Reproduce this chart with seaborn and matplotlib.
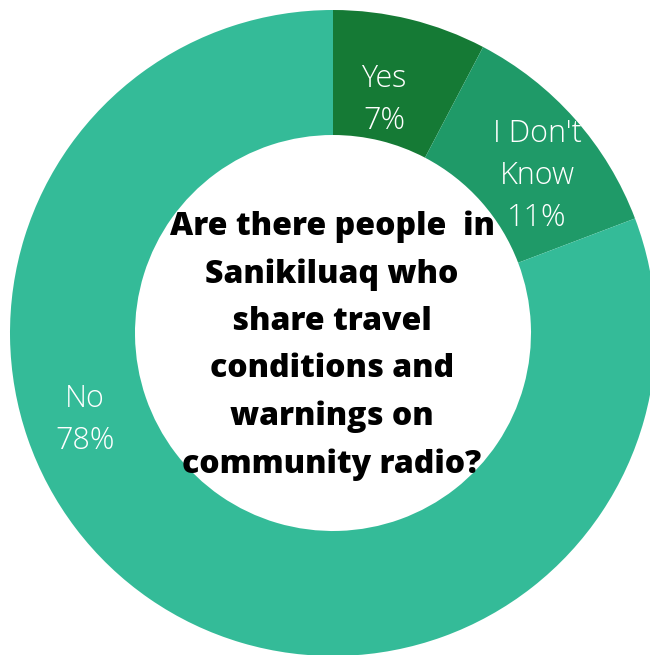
import matplotlib
matplotlib.use("Agg")
import matplotlib.pyplot as plt
import seaborn as sns

# Data (wedge angles match counts 2 / 3 / 21)
categories = ["Yes", "I Don't\nKnow", "No"]
counts = [2, 3, 21]
pct_labels = ["7%", "11%", "78%"]
colors = ["#157A35", "#1F9A68", "#34BB98"]
title = ("Are there people  in\nSanikiluaq who\nshare travel\n"
         "conditions and\nwarnings on\ncommunity radio?")

sns.set_theme(style="white")
plt.rcParams['font.family'] = ['Open Sans', 'DejaVu Sans']

W, H = 650, 655
fig = plt.figure(figsize=(W / 100, H / 100), dpi=100)
ax = fig.add_axes([0, 0, 1, 1])

cx, cy, R = 333, 333, 323  # pixel centre and outer radius
wedges, _ = ax.pie(counts, colors=colors, startangle=90, counterclock=False,
                   radius=1.0, wedgeprops=dict(width=0.387, linewidth=0))

ax.set_xlim(-cx / R, (W - cx) / R)
ax.set_ylim(-(H - cy) / R, cy / R)
ax.set_aspect('equal')
ax.axis('off')

def px(x, y):
    return (x - cx) / R, (cy - y) / R

label_pos = [(384, 100), (537, 176), (85, 420)]
for cat, pct, (x, y) in zip(categories, pct_labels, label_pos):
    tx, ty = px(x, y)
    ax.text(tx, ty, f"{cat}\n{pct}", ha='center', va='center', color='white',
            fontsize=22, fontweight='light', linespacing=1.4)

tx, ty = px(332, 346)
ax.text(tx, ty, title, ha='center', va='center', color='black',
        fontsize=23, fontweight='extra bold', linespacing=1.63)

fig.savefig("out.png", dpi=100)
